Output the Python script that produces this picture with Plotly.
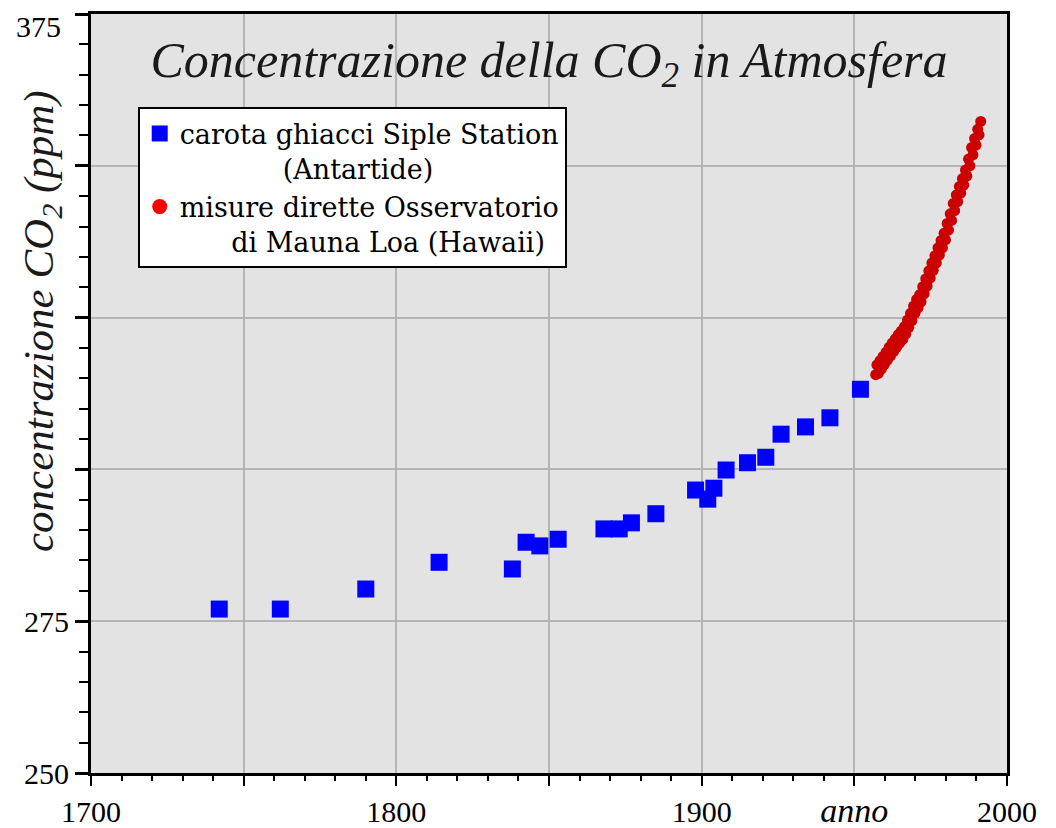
import plotly.graph_objects as go

# Siple Station ice core (blue squares)
siple_year = [1742, 1762, 1790, 1814, 1838, 1842.5, 1847, 1853, 1868, 1873, 1877, 1885,
              1898, 1902, 1904, 1908, 1915, 1921, 1926, 1934, 1942, 1952]
siple_co2 = [277.0, 277.0, 280.3, 284.7, 283.6, 288.0, 287.4, 288.5, 290.2, 290.2, 291.2, 292.7,
             296.6, 295.1, 296.9, 299.9, 301.1, 302.0, 305.8, 307.0, 308.5, 313.2]

# Mauna Loa direct measurements (red dots)
mauna_year = [1957.0, 1957.4, 1957.85, 1958.4, 1958.85, 1959.4, 1959.85, 1960.4, 1960.85,
              1961.4, 1961.85, 1962.4, 1962.85, 1963.4, 1963.85, 1964.4, 1964.85, 1965.4, 1965.85,
              1966.4, 1966.85, 1967.4, 1967.85, 1968.4, 1968.85, 1969.4, 1969.85, 1970.4, 1970.85,
              1971.4, 1971.85, 1972.4, 1972.85, 1973.4, 1973.85, 1974.4, 1974.85, 1975.4, 1975.85,
              1976.4, 1976.85, 1977.4, 1977.85, 1978.4, 1978.85, 1979.4, 1979.85, 1980.4, 1980.85,
              1981.4, 1981.85, 1982.4, 1982.85, 1983.4, 1983.85, 1984.4, 1984.85, 1985.4, 1985.85,
              1986.4, 1986.85, 1987.4, 1987.85, 1988.4, 1988.85, 1989.4, 1989.85, 1990.4, 1990.85,
              1991.4]
mauna_co2 = [315.6, 317.2, 315.8, 317.9, 316.5, 318.6, 317.3, 319.3, 318.0,
             320.1, 318.7, 320.8, 319.4, 321.5, 320.1, 322.2, 320.8, 322.8, 321.4,
             323.5, 322.3, 324.6, 323.4, 325.7, 324.5, 326.9, 325.7, 328.0, 326.6,
             328.8, 327.6, 330.1, 328.9, 331.4, 330.2, 332.7, 331.5, 334.0, 332.8,
             335.2, 334.0, 336.5, 335.3, 337.7, 336.5, 338.9, 337.8, 340.5, 339.4,
             342.1, 341.0, 343.8, 342.6, 345.2, 344.1, 346.6, 345.5, 347.9, 346.8,
             349.3, 348.3, 351.1, 350.0, 353.0, 351.8, 354.5, 353.4, 356.0, 355.1,
             357.3]

x_ticks = [1700, 1750, 1800, 1850, 1900, 1950, 2000]
x_labels = ["1700", "", "1800", "", "1900",
            '<span style="font-size:34px"><i>anno</i></span>', "2000"]
y_ticks = [250, 275, 300, 325, 350, 375]
y_labels = ["250", "275", "", "", "", ""]
y_top_label = "375"

NB = "\u00a0"
name_siple = "carota ghiacci Siple Station<br>" + NB * 12 + "(Antartide)"
name_mauna = "misure dirette Osservatorio<br>" + NB * 6 + "di Mauna Loa (Hawaii)"

SERIF = "Liberation Serif, Times New Roman, serif"
LEG_FONT = "DejaVu Serif, Liberation Serif, serif"

# page body has an 8px margin: figure drawn from (8, 8) in the screenshot
W, H = 1040, 820

fig = go.Figure()
fig.add_trace(go.Scatter(x=mauna_year, y=mauna_co2, mode="markers", showlegend=False,
                         marker=dict(symbol="circle", size=11, color="#cc0000", line=dict(width=0))))
fig.add_trace(go.Scatter(x=siple_year, y=siple_co2, mode="markers", showlegend=False,
                         marker=dict(symbol="square", size=17, color="#0000ff", line=dict(width=0))))
# legend entries
fig.add_trace(go.Scatter(x=[None], y=[None], mode="markers", name=name_siple,
                         marker=dict(symbol="square", size=16, color="#0000ff")))
fig.add_trace(go.Scatter(x=[None], y=[None], mode="markers", name=name_mauna,
                         marker=dict(symbol="circle", size=15, color="#ff0000")))

fig.update_layout(
    width=W, height=H,
    margin=dict(l=83, r=41, t=6, b=55),
    paper_bgcolor="white",
    plot_bgcolor="#e3e3e3",
    font=dict(family=SERIF, color="black"),
    title=dict(text="<i>Concentrazione della CO<sub>2</sub> in Atmosfera</i>",
               x=0.5, xref="paper", xanchor="center",
               y=1 - 51 / H, yref="container", yanchor="middle",
               font=dict(family=SERIF, size=50, color="#1a1a1a")),
    legend=dict(x=0.051, y=0.877, xanchor="left", yanchor="top",
                bgcolor="white", bordercolor="black", borderwidth=2,
                font=dict(family=LEG_FONT, size=27, color="black"),
                valign="top", itemsizing="trace", tracegroupgap=10),
    xaxis=dict(range=[1700, 2000], tickmode="array", tickvals=x_ticks, ticktext=x_labels,
               showgrid=True, gridcolor="#b5b5b5", gridwidth=2,
               showline=True, linecolor="black", linewidth=3, mirror=True,
               ticks="outside", ticklen=10, tickwidth=2, tickcolor="black",
               tickfont=dict(family=SERIF, size=30, color="black"),
               zeroline=False, automargin=False,
               minor=dict(dtick=10, ticks="outside", ticklen=5, tickwidth=2,
                          tickcolor="black", showgrid=False)),
    yaxis=dict(range=[250, 375], tickmode="array", tickvals=y_ticks, ticktext=y_labels,
               showgrid=True, gridcolor="#b5b5b5", gridwidth=2,
               showline=True, linecolor="black", linewidth=3, mirror=True,
               ticks="outside", ticklen=13, tickwidth=3, tickcolor="black",
               tickfont=dict(family=SERIF, size=30, color="black"),
               zeroline=False, automargin=False,
               minor=dict(dtick=5, ticks="outside", ticklen=9, tickwidth=2,
                          tickcolor="black", showgrid=False)),
    annotations=[
        dict(text="<i>concentrazione CO<sub>2</sub> (ppm)</i>",
             xref="paper", yref="paper", x=-0.0535, y=0.5955,
             xanchor="center", yanchor="middle", textangle=-90,
             showarrow=False,
             font=dict(family=SERIF, size=43, color="#1a1a1a")),
        dict(text=y_top_label, xref="paper", yref="y", x=-0.031, y=375,
             xanchor="right", yanchor="top", yshift=6, showarrow=False,
             font=dict(family=SERIF, size=30, color="black")),
    ],
)

fig.write_html("out.html")
